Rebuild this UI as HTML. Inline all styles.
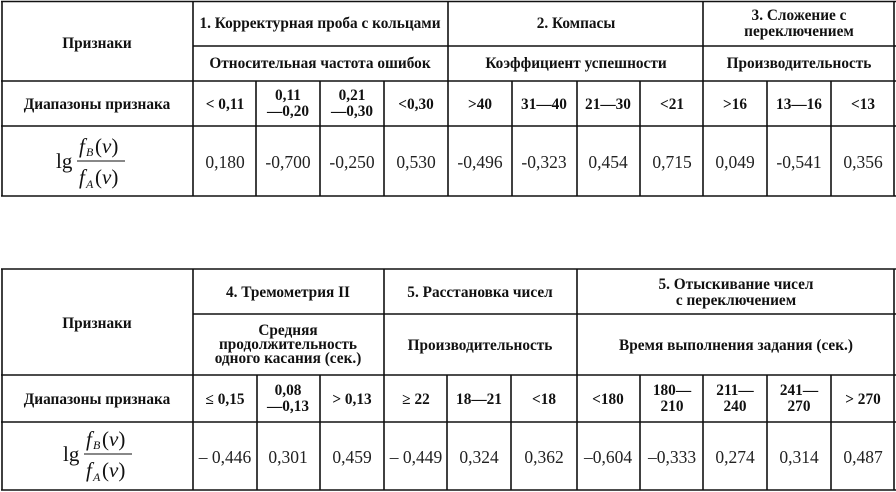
<!DOCTYPE html>
<html><head><meta charset="utf-8"><style>
html,body{margin:0;padding:0;background:#fff;}
svg{display:block}
.h{font-family:"Liberation Serif",serif;font-weight:bold;font-size:15.3px;fill:#111;text-anchor:middle}
.v{font-family:"Liberation Serif",serif;font-size:17.5px;fill:#222;text-anchor:middle}
.m{font-family:"Liberation Serif",serif;font-size:21px;fill:#111}
.s{font-family:"Liberation Serif",serif;font-size:12px;fill:#111;font-style:italic}
line{stroke:#111;stroke-width:1.6}
</style></head><body>
<svg width="896" height="492" viewBox="0 0 896 492">
<!-- TABLE 1 -->
<line x1="1" y1="1.5" x2="896" y2="1.5"/>
<line x1="193" y1="46" x2="896" y2="46"/>
<line x1="1" y1="81" x2="896" y2="81"/>
<line x1="1" y1="126" x2="896" y2="126"/>
<line x1="1" y1="196" x2="896" y2="196"/>
<line x1="2" y1="1" x2="2" y2="196"/>
<line x1="894" y1="1" x2="894" y2="196"/>
<line x1="193" y1="1" x2="193" y2="196"/>
<line x1="448" y1="1" x2="448" y2="196"/>
<line x1="703" y1="1" x2="703" y2="196"/>
<line x1="256" y1="81" x2="256" y2="196"/>
<line x1="320" y1="81" x2="320" y2="196"/>
<line x1="384" y1="81" x2="384" y2="196"/>
<line x1="512" y1="81" x2="512" y2="196"/>
<line x1="577" y1="81" x2="577" y2="196"/>
<line x1="640" y1="81" x2="640" y2="196"/>
<line x1="767" y1="81" x2="767" y2="196"/>
<line x1="831" y1="81" x2="831" y2="196"/>

<text class="h" x="97" y="48">Признаки</text>
<text class="h" x="320" y="28">1. Корректурная проба с кольцами</text>
<text class="h" x="320" y="68">Относительная частота ошибок</text>
<text class="h" x="576" y="28">2. Компасы</text>
<text class="h" x="576" y="68">Коэффициент успешности</text>
<text class="h" x="799" y="20">3. Сложение с</text>
<text class="h" x="799" y="36">переключением</text>
<text class="h" x="799" y="68">Производительность</text>

<text class="h" x="97" y="109">Диапазоны признака</text>
<text class="h" x="225" y="109">&lt; 0,11</text>
<text class="h" x="288" y="100">0,11</text>
<text class="h" x="288" y="116">—0,20</text>
<text class="h" x="352" y="100">0,21</text>
<text class="h" x="352" y="116">—0,30</text>
<text class="h" x="416" y="109">&lt;0,30</text>
<text class="h" x="480" y="109">&gt;40</text>
<text class="h" x="544" y="109">31—40</text>
<text class="h" x="608" y="109">21—30</text>
<text class="h" x="672" y="109">&lt;21</text>
<text class="h" x="735" y="109">&gt;16</text>
<text class="h" x="799" y="109">13—16</text>
<text class="h" x="863" y="109">&lt;13</text>

<text class="m" x="56" y="168">lg</text>
<text class="m" x="79" y="153" font-style="italic">f</text><text class="s" x="86" y="156">B</text><text class="m" x="95" y="153">(<tspan font-style="italic">v</tspan>)</text>
<line x1="77" y1="161" x2="125" y2="161" style="stroke-width:1"/>
<text class="m" x="79" y="184" font-style="italic">f</text><text class="s" x="86" y="188">A</text><text class="m" x="95" y="184">(<tspan font-style="italic">v</tspan>)</text>

<text class="v" x="225" y="168">0,180</text>
<text class="v" x="288" y="168">-0,700</text>
<text class="v" x="352" y="168">-0,250</text>
<text class="v" x="416" y="168">0,530</text>
<text class="v" x="480" y="168">-0,496</text>
<text class="v" x="544" y="168">-0,323</text>
<text class="v" x="608" y="168">0,454</text>
<text class="v" x="672" y="168">0,715</text>
<text class="v" x="735" y="168">0,049</text>
<text class="v" x="799" y="168">-0,541</text>
<text class="v" x="863" y="168">0,356</text>

<!-- TABLE 2 -->
<line x1="1" y1="269" x2="896" y2="269"/>
<line x1="193" y1="314" x2="896" y2="314"/>
<line x1="1" y1="375" x2="896" y2="375"/>
<line x1="1" y1="422" x2="896" y2="422"/>
<line x1="1" y1="490" x2="896" y2="490"/>
<line x1="2" y1="269" x2="2" y2="490"/>
<line x1="894" y1="269" x2="894" y2="490"/>
<line x1="193" y1="269" x2="193" y2="490"/>
<line x1="384" y1="269" x2="384" y2="490"/>
<line x1="577" y1="269" x2="577" y2="490"/>
<line x1="257" y1="375" x2="257" y2="490"/>
<line x1="320" y1="375" x2="320" y2="490"/>
<line x1="447" y1="375" x2="447" y2="490"/>
<line x1="511" y1="375" x2="511" y2="490"/>
<line x1="640" y1="375" x2="640" y2="490"/>
<line x1="703" y1="375" x2="703" y2="490"/>
<line x1="767" y1="375" x2="767" y2="490"/>
<line x1="831" y1="375" x2="831" y2="490"/>

<text class="h" x="97" y="328">Признаки</text>
<text class="h" x="288" y="297">4. Тремометрия II</text>
<text class="h" x="480" y="297">5. Расстановка чисел</text>
<text class="h" x="736" y="289">5. Отыскивание чисел</text>
<text class="h" x="736" y="305">с переключением</text>
<text class="h" x="288" y="335">Средняя</text>
<text class="h" x="288" y="349">продолжительность</text>
<text class="h" x="288" y="363">одного касания (сек.)</text>
<text class="h" x="480" y="350">Производительность</text>
<text class="h" x="736" y="350">Время выполнения задания (сек.)</text>

<text class="h" x="97" y="404">Диапазоны признака</text>
<text class="h" x="225" y="404">≤ 0,15</text>
<text class="h" x="288" y="395">0,08</text>
<text class="h" x="288" y="411">—0,13</text>
<text class="h" x="352" y="404">&gt; 0,13</text>
<text class="h" x="416" y="404">≥ 22</text>
<text class="h" x="479" y="404">18—21</text>
<text class="h" x="544" y="404">&lt;18</text>
<text class="h" x="608" y="404">&lt;180</text>
<text class="h" x="672" y="395">180—</text>
<text class="h" x="672" y="411">210</text>
<text class="h" x="735" y="395">211—</text>
<text class="h" x="735" y="411">240</text>
<text class="h" x="799" y="395">241—</text>
<text class="h" x="799" y="411">270</text>
<text class="h" x="863" y="404">&gt; 270</text>

<text class="m" x="63" y="461">lg</text>
<text class="m" x="86" y="446" font-style="italic">f</text><text class="s" x="93" y="449">B</text><text class="m" x="102" y="446">(<tspan font-style="italic">v</tspan>)</text>
<line x1="84" y1="454" x2="132" y2="454" style="stroke-width:1"/>
<text class="m" x="86" y="477" font-style="italic">f</text><text class="s" x="93" y="481">A</text><text class="m" x="102" y="477">(<tspan font-style="italic">v</tspan>)</text>

<text class="v" x="225" y="463">– 0,446</text>
<text class="v" x="288" y="463">0,301</text>
<text class="v" x="352" y="463">0,459</text>
<text class="v" x="416" y="463">– 0,449</text>
<text class="v" x="479" y="463">0,324</text>
<text class="v" x="544" y="463">0,362</text>
<text class="v" x="608" y="463">–0,604</text>
<text class="v" x="672" y="463">–0,333</text>
<text class="v" x="735" y="463">0,274</text>
<text class="v" x="799" y="463">0,314</text>
<text class="v" x="863" y="463">0,487</text>
</svg>
</body></html>
